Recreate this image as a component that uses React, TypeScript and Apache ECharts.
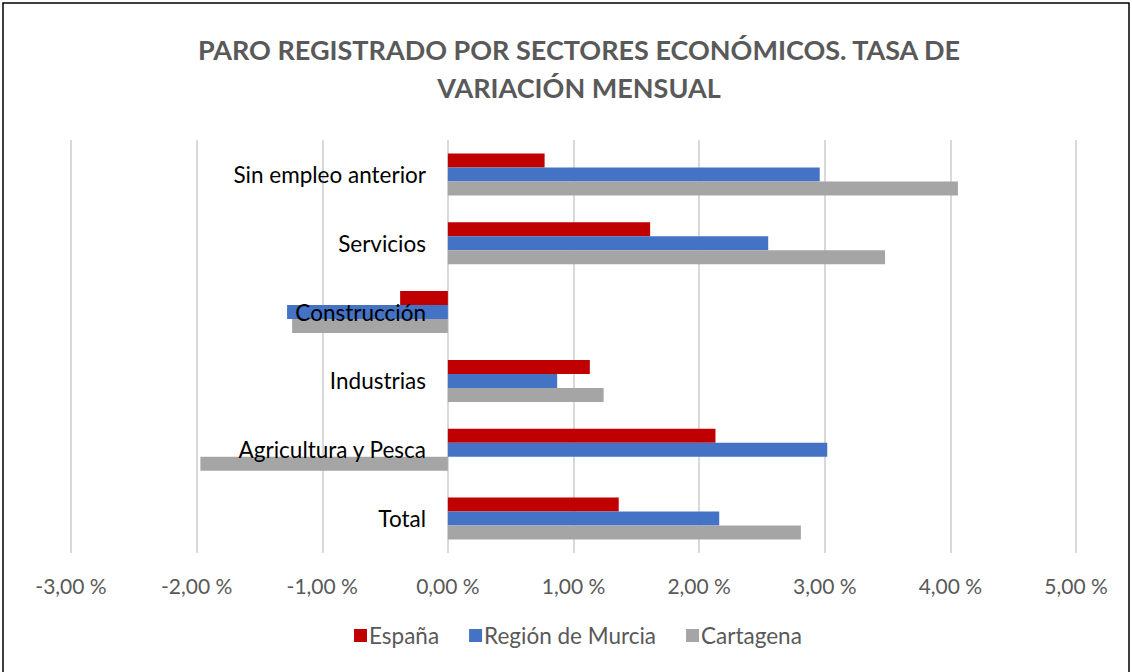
import React, { useEffect, useRef } from "react";
import * as echarts from "echarts";

const categories = ["Total", "Agricultura y Pesca", "Industrias", "Construcción", "Servicios", "Sin empleo anterior"];
const espana = [1.36, 2.13, 1.13, -0.38, 1.61, 0.77];
const murcia = [2.16, 3.02, 0.87, -1.28, 2.55, 2.96];
const cartagena = [2.81, -1.97, 1.24, -1.24, 3.48, 4.06];
const seriesNames = ["España", "Región de Murcia", "Cartagena"];
const colors = ["#C00000", "#4472C4", "#A5A5A5"];
const titleText = "PARO REGISTRADO POR SECTORES ECONÓMICOS. TASA DE\nVARIACIÓN MENSUAL";

const FONT = "Lato, 'Open Sans', sans-serif";

export default function App() {
  const ref = useRef<HTMLDivElement>(null);
  useEffect(() => {
    document.body.style.margin = "0";
    const chart = echarts.init(ref.current!, null, { renderer: "svg" });
    const data = [espana, murcia, cartagena];
    chart.setOption({
      animation: false,
      backgroundColor: "#fff",
      textStyle: { fontFamily: FONT },
      title: {
        text: titleText,
        left: 574,
        textAlign: "center",
        top: 25,
        textStyle: { fontSize: 27, fontWeight: "bold", color: "#595959", lineHeight: 38, fontFamily: FONT },
      },
      graphic: [
        {
          type: "rect",
          shape: { x: 3, y: 3, width: 1126, height: 700 },
          style: { fill: "none", stroke: "#000", lineWidth: 1.5 },
          silent: true,
        },
      ],
      legend: {
        bottom: 20,
        left: 349,
        icon: "rect",
        itemWidth: 13,
        itemHeight: 13,
        itemGap: 30,
        textStyle: { fontSize: 22.5, color: "#595959", fontFamily: FONT, padding: [0, 0, 0, -3] },
        data: seriesNames,
      },
      grid: { left: 71, right: 56, top: 140, bottom: 119, containLabel: false, outerBoundsMode: "none" },
      xAxis: {
        type: "value",
        min: -3,
        max: 5,
        interval: 1,
        axisLine: { show: false },
        axisTick: { show: false },
        splitLine: { lineStyle: { color: "#D9D9D9", width: 2 } },
        axisLabel: {
          fontSize: 21,
          color: "#595959",
          margin: 22,
          fontFamily: FONT,
          formatter: (v: number) => v.toFixed(2).replace(".", ",") + " %",
        },
      },
      yAxis: {
        type: "category",
        data: categories,
        z: 10,
        axisLine: { show: false },
        axisTick: { show: false },
        axisLabel: { fontSize: 22.5, color: "#000", margin: -355, fontFamily: FONT, hideOverlap: false },
      },
      series: seriesNames.map((name, i) => ({
        name,
        type: "bar",
        z: 2,
        data: data[i],
        barGap: "0%",
        barCategoryGap: "39%",
        itemStyle: { color: colors[i] },
      })),
    });
    return () => chart.dispose();
  }, []);
  return <div ref={ref} style={{ width: 1132, height: 672 }} />;
}
